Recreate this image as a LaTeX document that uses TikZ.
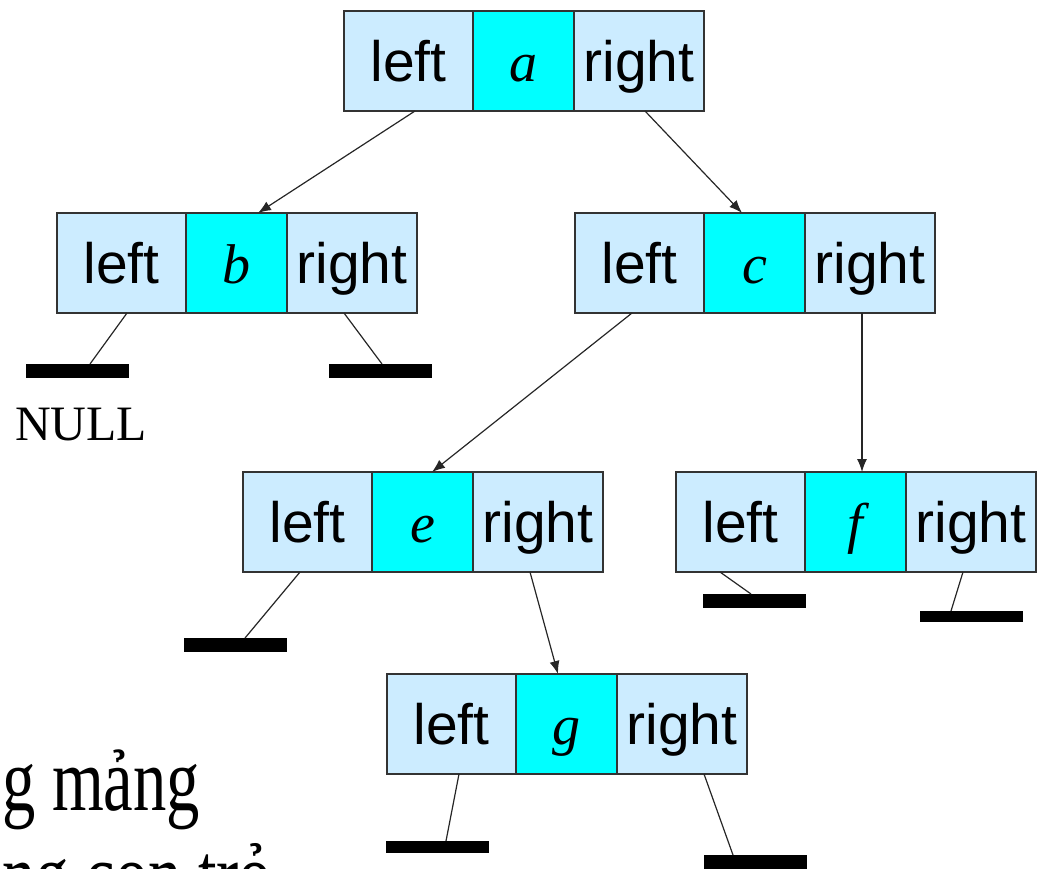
\documentclass[tikz,border=0pt]{standalone}
\usepackage{fontspec}
\setmainfont{Liberation Serif}
\newfontfamily\cellfont{Liberation Sans}
\usetikzlibrary{arrows.meta,positioning}

\definecolor{cellblue}{HTML}{CCECFF}
\definecolor{keycyan}{HTML}{00FFFF}

\tikzset{
  cell/.style={draw=black!80, line width=1.2pt, minimum height=100pt, inner sep=0pt, outer sep=0pt, text height=41pt, text depth=0pt},
  ptrcell/.style={cell, fill=cellblue, font=\cellfont\fontsize{57}{60}\selectfont},
  keycell/.style={cell, fill=keycyan, minimum width=101pt, font=\itshape\fontsize{56}{60}\selectfont},
  nullbar/.style={fill=black, minimum width=103pt, minimum height=14pt, inner sep=0pt, outer sep=0pt},
  link/.style={draw=black!85, line width=1.2pt},
  arrow/.style={link, -{Latex[length=13pt,width=10pt]}}
}

\begin{document}
\begin{tikzpicture}[x=1pt, y=-1pt]
\useasboundingbox (0,0) rectangle (1043,868);
\clip (0,0) rectangle (1043,868);

% tree nodes: left | key | right
\foreach \n/\x/\y in {a/344/11, b/57/213, c/575/213, e/243/472, f/676/472, g/387/674} {
  \node[ptrcell, minimum width=129pt, anchor=north west] (\n-l) at (\x,\y) {left};
  \node[keycell, anchor=west] (\n-v) at (\n-l.east) {\n};
  \node[ptrcell, minimum width=130pt, anchor=west] (\n-r) at (\n-v.east) {right};
}

% child pointers
\draw[arrow] ([xshift=6.5pt]a-l.south) -- ([xshift=21.5pt]b-v.north);
\draw[arrow] ([xshift=6pt]a-r.south) -- ([xshift=-12.5pt]c-v.north);
\draw[arrow] ([xshift=-7.5pt]c-l.south) -- ([xshift=9.5pt]e-v.north);
\draw[arrow] ([xshift=-8pt]c-r.south) -- ([xshift=6.5pt]f-v.north);
\draw[arrow] ([xshift=-8pt]e-r.south) -- ([xshift=-8.5pt]g-v.north);

% NULL pointers
\node[nullbar] (b-lnull) at (77.5,371) {};
\node[nullbar] (b-rnull) at (380,371) {};
\node[nullbar] (e-lnull) at (235,645) {};
\node[nullbar] (f-lnull) at (754.5,601) {};
\node[nullbar, minimum height=11pt] (f-rnull) at (971,616.5) {};
\node[nullbar, minimum height=12pt] (g-lnull) at (437.5,847) {};
\node[nullbar] (g-rnull) at (755.5,862) {};

\draw[link] ([xshift=5.5pt]b-l.south) -- ([xshift=12.5pt]b-lnull.north);
\draw[link] ([xshift=-8pt]b-r.south) -- ([xshift=2pt]b-rnull.north);
\draw[link] ([xshift=-7.5pt]e-l.south) -- ([xshift=10pt]e-lnull.north);
\draw[link] ([xshift=-20.5pt]f-l.south) -- ([xshift=-3.5pt]f-lnull.north);
\draw[link] ([xshift=-8pt]f-r.south) -- ([xshift=-20pt]f-rnull.north);
\draw[link] ([xshift=7.5pt]g-l.south) -- ([xshift=8.5pt]g-lnull.north);
\draw[link] ([xshift=22pt]g-r.south) -- ([xshift=-22.5pt]g-rnull.north);

\node[font=\fontsize{49.5}{52}\selectfont, anchor=base west, inner sep=0pt] (nulltext) at (15,440) {NULL};

% slide text behind the picture
\node[font=\fontsize{90}{100}\selectfont, anchor=base west, inner sep=0pt] (line1) at (2,810) {\scalebox{0.74}[1]{g mảng}};
\node[font=\fontsize{90}{100}\selectfont, anchor=base west, inner sep=0pt] (line2) at (2,905) {\scalebox{0.74}[1]{ng con trỏ}};
\end{tikzpicture}
\end{document}
